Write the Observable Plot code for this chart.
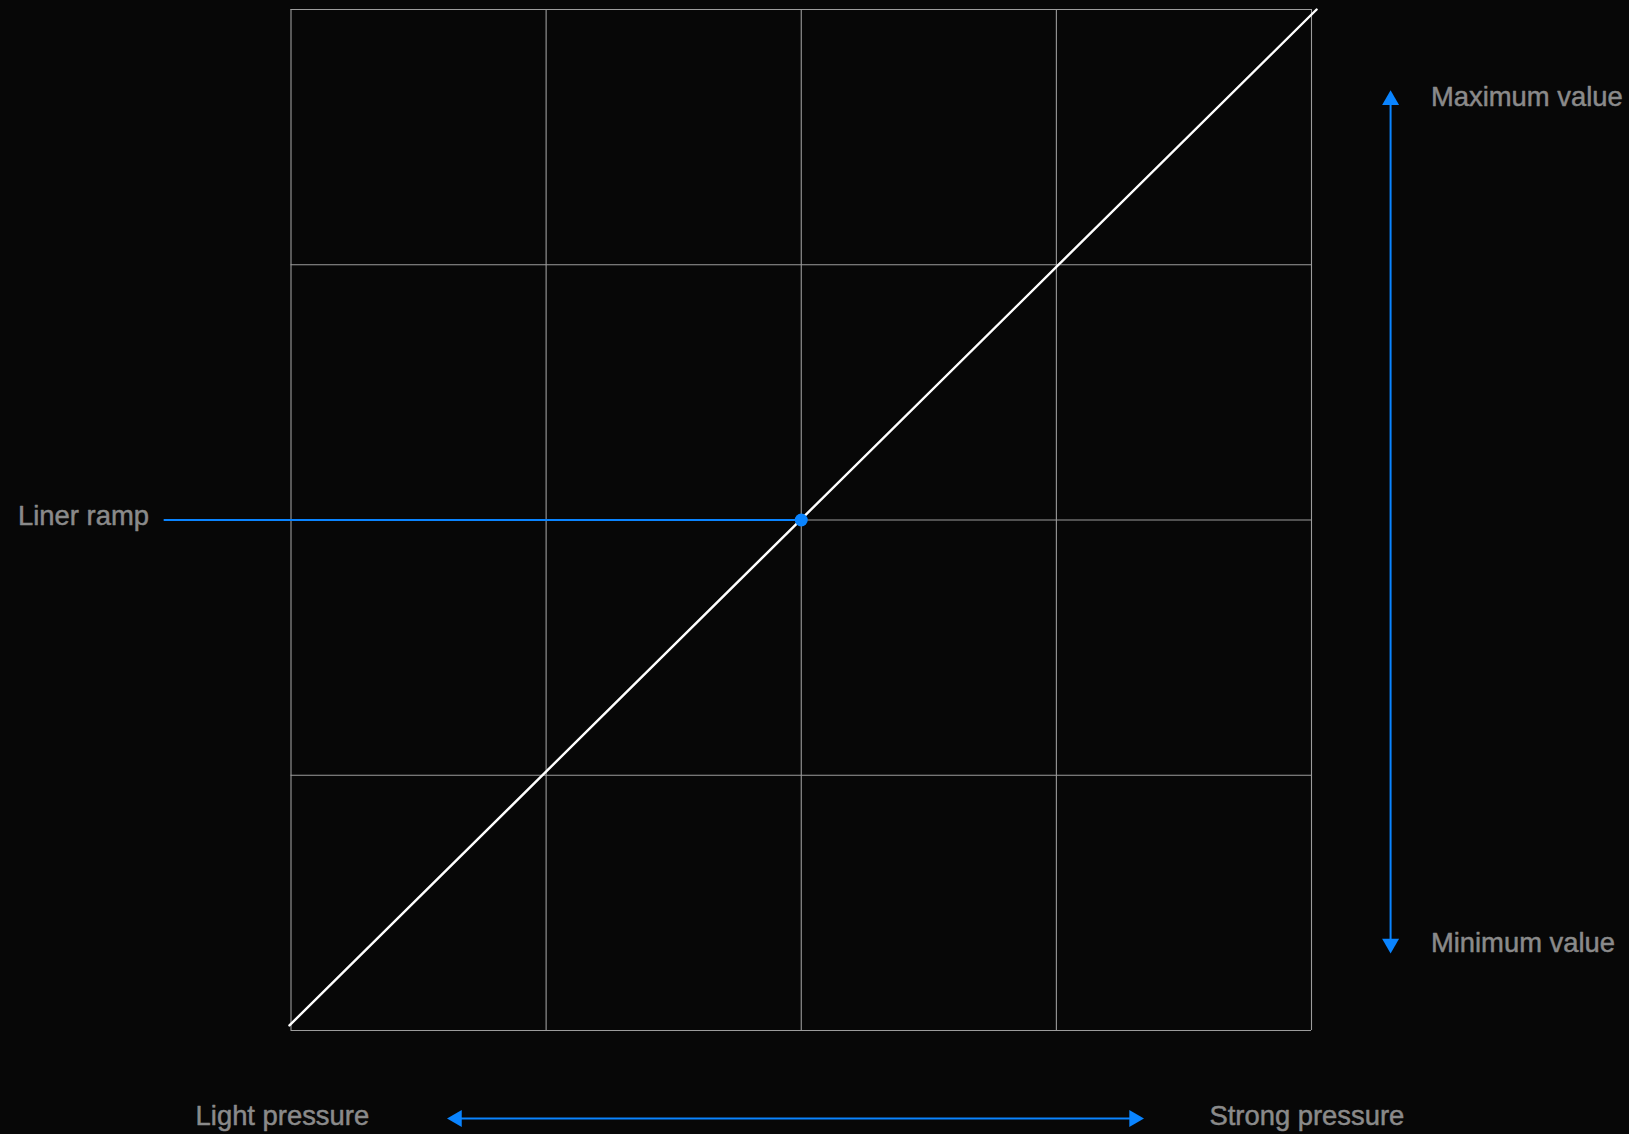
<!DOCTYPE html>
<html><head><meta charset="utf-8">
<script src="https://cdn.jsdelivr.net/npm/d3@7"></script>
<script src="https://cdn.jsdelivr.net/npm/@observablehq/plot@0.6"></script>
<style>html,body{margin:0;padding:0;background:#070707;overflow:hidden} svg{display:block}</style>
</head><body><div id="chart"></div>
<script>
// ---- data (in chart units: the grid spans 0..4 on both axes) ----
const gridTicks = [0, 1, 2, 3, 4];
const rampX = [-0.006, 4.02];
const rampY = [0.02, 4.0];
const markerX = [2];
const markerY = [2];
const leaderX = [-0.496, 2];
const leaderY = [2, 2];
const labelTexts = ["Liner ramp", "Maximum value", "Minimum value", "Light pressure", "Strong pressure"];
const labelX = [-1.07, 4.468, 4.468, -0.374, 3.6];
const labelY = [2.016, 3.657, 0.343, -0.335, -0.335];
const vArrowX = [4.31, 4.31];
const vArrowY = [0.34, 3.645];
const hArrowX = [0.65, 3.305];
const hArrowY = [-0.345, -0.345];

// ---- derived tables ----
const ramp = rampX.map((x, i) => ({x, y: rampY[i]}));
const marker = markerX.map((x, i) => ({x, y: markerY[i]}));
const leader = leaderX.map((x, i) => ({x, y: leaderY[i]}));
const labels = labelTexts.map((t, i) => ({t, x: labelX[i], y: labelY[i]}));
const vArrow = vArrowX.map((x, i) => ({x, y: vArrowY[i]}));
const hArrow = hArrowX.map((x, i) => ({x, y: hArrowY[i]}));
const heads = [
  {x: vArrowX[0], y: vArrowY[0], r: 180},
  {x: vArrowX[1], y: vArrowY[1], r: 0},
  {x: hArrowX[0], y: hArrowY[0], r: -90},
  {x: hArrowX[1], y: hArrowY[1], r: 90}
];

const BLUE = "#0a84ff";
const GRID = "#9c9c9c";
const TEXT = "#8a8a8a";

const chart = Plot.plot({
  width: 1629,
  height: 1134,
  marginLeft: 290.5,
  marginRight: 318,
  marginTop: 9,
  marginBottom: 104,
  style: {background: "#070707", fontFamily: "'Liberation Sans', Arial, Helvetica, sans-serif"},
  x: {domain: [0, 4], axis: null},
  y: {domain: [0, 4], axis: null},
  marks: [
    Plot.ruleX(gridTicks, {stroke: GRID, strokeWidth: 1.1}),
    Plot.ruleY(gridTicks, {stroke: GRID, strokeWidth: 1.1}),
    Plot.line(ramp, {x: "x", y: "y", stroke: "#ffffff", strokeWidth: 2.4}),
    Plot.line(leader, {x: "x", y: "y", stroke: BLUE, strokeWidth: 2}),
    Plot.dot(marker, {x: "x", y: "y", r: 6.5, fill: BLUE}),
    Plot.line(vArrow, {x: "x", y: "y", stroke: BLUE, strokeWidth: 2}),
    Plot.line(hArrow, {x: "x", y: "y", stroke: BLUE, strokeWidth: 2}),
    Plot.dot(heads, {x: "x", y: "y", symbol: "triangle", r: 6.3, fill: BLUE, rotate: "r"}),
    Plot.text(labels, {x: "x", y: "y", text: "t", textAnchor: "start", lineAnchor: "middle",
      fontSize: 27.4, fill: TEXT, stroke: TEXT, strokeWidth: 0.5})
  ]
});
document.getElementById("chart").appendChild(chart);
</script>
</body></html>
